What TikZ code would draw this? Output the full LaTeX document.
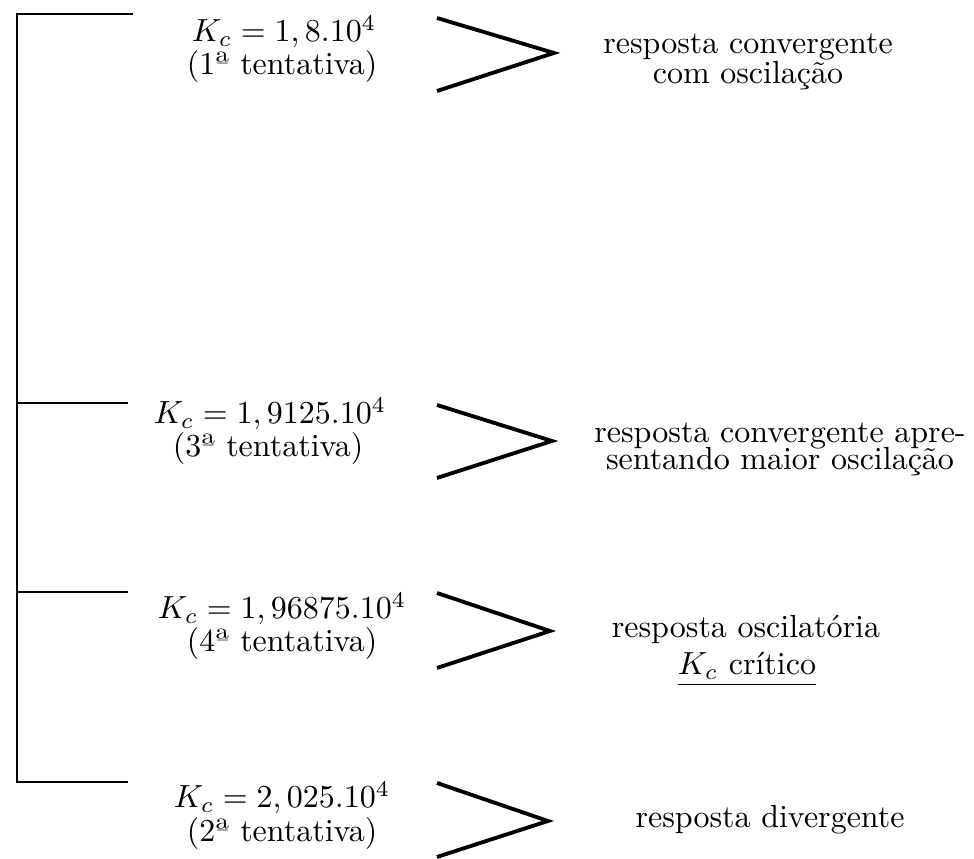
\documentclass[tikz,border=0pt]{standalone}
\usepackage{fontspec}
\begin{document}
\begin{tikzpicture}[x=0.3125pt,y=-0.3125pt,
  rail/.style={line width=0.9pt},
  vee/.style={line width=1.2pt, line join=miter},
  txt/.style={anchor=base, inner sep=0pt, font=\fontsize{10}{12}\selectfont},
]
\useasboundingbox (0,0) rectangle (974,859);

% bracket that joins the four trials
\coordinate (top) at (17,14);
\coordinate (bot) at (17,782);
\coordinate (h1) at (133,14);
\coordinate (j3) at (17,403);
\coordinate (h3) at (128,403);
\coordinate (j4) at (17,592);
\coordinate (h4) at (128,592);
\coordinate (h2) at (128,782);
\draw[rail] (h1) -- (top) -- (bot) -- (h2);
\draw[rail] (j3) -- (h3);
\draw[rail] (j4) -- (h4);

% gain values
\node[txt] (k1) at (284,42)  {$K_c = 1,8.10^4$};
\node[txt] (t1) at (282,75)  {(1ª tentativa)};
\node[txt] (k3) at (270,424) {$K_c = 1,9125.10^4$};
\node[txt] (t3) at (268,457) {(3ª tentativa)};
\node[txt] (k4) at (282,619) {$K_c = 1,96875.10^4$};
\node[txt] (t4) at (282,652) {(4ª tentativa)};
\node[txt] (k2) at (282,808) {$K_c = 2,025.10^4$};
\node[txt] (t2) at (282,842) {(2ª tentativa)};

% chevrons
\draw[vee] (437,18)  -- (554,53)  -- (437,91);
\draw[vee] (437,405) -- (552,441) -- (437,478);
\draw[vee] (437,593) -- (550,631) -- (437,668);
\draw[vee] (437,783) -- (548,821) -- (437,857);

% observed responses
\node[txt] (r1a) at (748,54)  {resposta convergente};
\node[txt] (r1b) at (748,84)  {com oscilação};
\node[txt] (r3a) at (780,443) {resposta convergente apre-};
\node[txt] (r3b) at (780,470) {sentando maior oscilação};
\node[txt] (r4a) at (746,638) {resposta oscilatória};
\node[txt] (r4b) at (747,675) {\underline{$K_c$ crítico}};
\node[txt] (r2a) at (770,828) {resposta divergente};
\end{tikzpicture}
\end{document}
